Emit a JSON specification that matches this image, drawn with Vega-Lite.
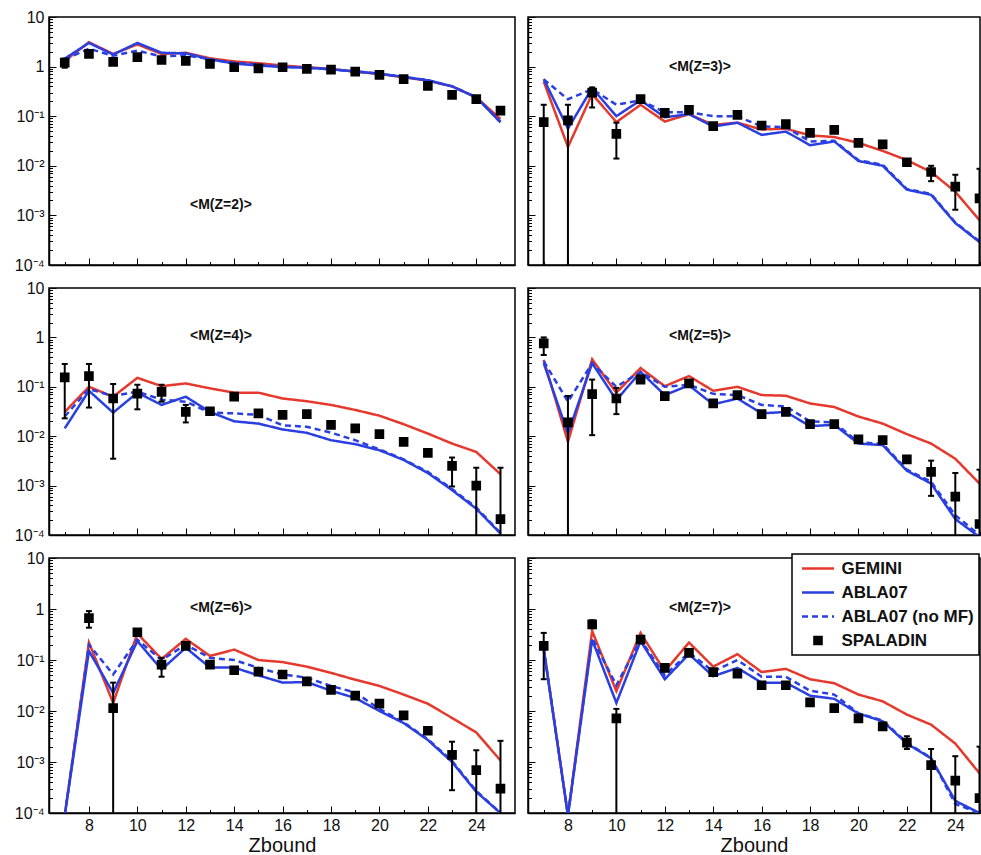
{
  "$schema": "https://vega.github.io/schema/vega-lite/v6.json",
  "padding": {"left": 13, "top": 8, "right": 0, "bottom": 0},
  "background": "white",
  "config": {
    "view": {"stroke": "black", "strokeWidth": 1.5},
    "axis": {"domainColor": "black", "domainWidth": 1.5, "tickColor": "black", "tickWidth": 1, "grid": false, "labelFont": "Liberation Sans", "labelFontSize": 16, "labelColor": "#111", "titleFont": "Liberation Sans", "titleFontSize": 20, "titleFontWeight": "normal", "titleColor": "#111", "labelFlush": false, "labelOverlap": false},
    "legend": {"orient": "none", "legendX": 743, "legendY": 537, "strokeColor": "black", "strokeWidth": 1.5, "fillColor": "white", "padding": 5, "labelFont": "Liberation Sans", "labelFontSize": 17, "labelFontWeight": "bold", "labelColor": "#111", "rowPadding": 6, "symbolSize": 256, "symbolStrokeWidth": 2.5, "symbolOpacity": 1, "symbolOffset": 11.5, "labelOffset": 14, "title": null}
  },
  "datasets": {
    "d": [
      {"p":2,"z":7,"g":1.3,"a":1.45,"n":1.4,"s":1.2,"lo":0.95,"hi":1.45},
      {"p":2,"z":8,"g":3.1,"a":3.0,"n":2.3,"s":1.8},
      {"p":2,"z":9,"g":1.8,"a":1.75,"n":1.65,"s":1.25},
      {"p":2,"z":10,"g":2.8,"a":3.0,"n":2.1,"s":1.55},
      {"p":2,"z":11,"g":1.8,"a":1.9,"n":1.6,"s":1.36},
      {"p":2,"z":12,"g":1.9,"a":1.85,"n":1.7,"s":1.3},
      {"p":2,"z":13,"g":1.47,"a":1.4,"n":1.4,"s":1.13},
      {"p":2,"z":14,"g":1.27,"a":1.15,"n":1.2,"s":0.97},
      {"p":2,"z":15,"g":1.17,"a":1.05,"n":1.1,"s":0.92},
      {"p":2,"z":16,"g":1.05,"a":0.98,"n":1.0,"s":0.97},
      {"p":2,"z":17,"g":0.97,"a":0.95,"n":0.95,"s":0.9},
      {"p":2,"z":18,"g":0.9,"a":0.88,"n":0.88,"s":0.87},
      {"p":2,"z":19,"g":0.79,"a":0.8,"n":0.8,"s":0.79},
      {"p":2,"z":20,"g":0.71,"a":0.72,"n":0.72,"s":0.68},
      {"p":2,"z":21,"g":0.61,"a":0.62,"n":0.62,"s":0.56},
      {"p":2,"z":22,"g":0.52,"a":0.53,"n":0.53,"s":0.41},
      {"p":2,"z":23,"g":0.4,"a":0.4,"n":0.4,"s":0.27},
      {"p":2,"z":24,"g":0.24,"a":0.24,"n":0.24,"s":0.22},
      {"p":2,"z":25,"g":0.088,"a":0.075,"n":0.078,"s":0.13},

      {"p":3,"z":7,"g":0.5,"a":0.56,"n":0.55,"s":0.076,"lo":0.00001,"hi":0.17},
      {"p":3,"z":8,"g":0.024,"a":0.056,"n":0.22,"s":0.082,"lo":0.00001,"hi":0.17},
      {"p":3,"z":9,"g":0.28,"a":0.37,"n":0.35,"s":0.3,"lo":0.15,"hi":0.38},
      {"p":3,"z":10,"g":0.076,"a":0.1,"n":0.17,"s":0.044,"lo":0.014,"hi":0.074},
      {"p":3,"z":11,"g":0.17,"a":0.21,"n":0.21,"s":0.22},
      {"p":3,"z":12,"g":0.078,"a":0.095,"n":0.12,"s":0.117},
      {"p":3,"z":13,"g":0.11,"a":0.11,"n":0.12,"s":0.134},
      {"p":3,"z":14,"g":0.067,"a":0.062,"n":0.1,"s":0.063},
      {"p":3,"z":15,"g":0.074,"a":0.074,"n":0.1,"s":0.106},
      {"p":3,"z":16,"g":0.054,"a":0.042,"n":0.062,"s":0.065},
      {"p":3,"z":17,"g":0.056,"a":0.049,"n":0.06,"s":0.069},
      {"p":3,"z":18,"g":0.041,"a":0.026,"n":0.031,"s":0.046},
      {"p":3,"z":19,"g":0.038,"a":0.031,"n":0.032,"s":0.053},
      {"p":3,"z":20,"g":0.029,"a":0.0125,"n":0.013,"s":0.029},
      {"p":3,"z":21,"g":0.02,"a":0.01,"n":0.0105,"s":0.027},
      {"p":3,"z":22,"g":0.013,"a":0.0033,"n":0.0034,"s":0.0118},
      {"p":3,"z":23,"g":0.0075,"a":0.0026,"n":0.0027,"s":0.0075,"lo":0.0049,"hi":0.01},
      {"p":3,"z":24,"g":0.003,"a":0.0007,"n":0.00072,"s":0.0038,"lo":0.0013,"hi":0.0066},
      {"p":3,"z":25,"g":0.0008,"a":0.00029,"n":0.0003,"s":0.0022,"lo":0.00001,"hi":0.0087},

      {"p":4,"z":7,"g":0.031,"a":0.0144,"n":0.025,"s":0.155,"lo":0.023,"hi":0.29},
      {"p":4,"z":8,"g":0.1,"a":0.083,"n":0.09,"s":0.165,"lo":0.038,"hi":0.29},
      {"p":4,"z":9,"g":0.063,"a":0.03,"n":0.065,"s":0.058,"lo":0.0035,"hi":0.114},
      {"p":4,"z":10,"g":0.152,"a":0.076,"n":0.08,"s":0.073,"lo":0.035,"hi":0.11},
      {"p":4,"z":11,"g":0.103,"a":0.043,"n":0.055,"s":0.079,"lo":0.05,"hi":0.11},
      {"p":4,"z":12,"g":0.117,"a":0.063,"n":0.05,"s":0.031,"lo":0.019,"hi":0.043},
      {"p":4,"z":13,"g":0.093,"a":0.031,"n":0.03,"s":0.032},
      {"p":4,"z":14,"g":0.076,"a":0.02,"n":0.029,"s":0.063},
      {"p":4,"z":15,"g":0.076,"a":0.018,"n":0.027,"s":0.029},
      {"p":4,"z":16,"g":0.058,"a":0.0137,"n":0.0166,"s":0.027},
      {"p":4,"z":17,"g":0.051,"a":0.0117,"n":0.0155,"s":0.028},
      {"p":4,"z":18,"g":0.043,"a":0.0083,"n":0.0118,"s":0.017},
      {"p":4,"z":19,"g":0.034,"a":0.0069,"n":0.0083,"s":0.0144},
      {"p":4,"z":20,"g":0.026,"a":0.0052,"n":0.0054,"s":0.011},
      {"p":4,"z":21,"g":0.0175,"a":0.0033,"n":0.0034,"s":0.0077},
      {"p":4,"z":22,"g":0.0113,"a":0.0018,"n":0.0019,"s":0.0046},
      {"p":4,"z":23,"g":0.0071,"a":0.00081,"n":0.00085,"s":0.0025,"lo":0.00096,"hi":0.0037},
      {"p":4,"z":24,"g":0.0048,"a":0.00034,"n":0.00036,"s":0.001,"lo":0.00001,"hi":0.0023},
      {"p":4,"z":25,"g":0.0017,"a":0.000107,"n":0.00011,"s":0.00021,"lo":0.00001,"hi":0.0023},

      {"p":5,"z":7,"g":0.35,"a":0.3,"n":0.33,"s":0.76,"lo":0.44,"hi":1.0},
      {"p":5,"z":8,"g":0.0077,"a":0.0113,"n":0.05,"s":0.019,"lo":0.00001,"hi":0.065},
      {"p":5,"z":9,"g":0.36,"a":0.3,"n":0.3,"s":0.071,"lo":0.0105,"hi":0.14},
      {"p":5,"z":10,"g":0.076,"a":0.054,"n":0.1,"s":0.058,"lo":0.028,"hi":0.095},
      {"p":5,"z":11,"g":0.24,"a":0.2,"n":0.2,"s":0.14,"lo":0.12,"hi":0.17},
      {"p":5,"z":12,"g":0.103,"a":0.068,"n":0.1,"s":0.065},
      {"p":5,"z":13,"g":0.165,"a":0.107,"n":0.11,"s":0.117},
      {"p":5,"z":14,"g":0.083,"a":0.044,"n":0.072,"s":0.046},
      {"p":5,"z":15,"g":0.1,"a":0.058,"n":0.068,"s":0.068},
      {"p":5,"z":16,"g":0.068,"a":0.029,"n":0.043,"s":0.028},
      {"p":5,"z":17,"g":0.066,"a":0.031,"n":0.04,"s":0.031},
      {"p":5,"z":18,"g":0.046,"a":0.016,"n":0.02,"s":0.0175},
      {"p":5,"z":19,"g":0.039,"a":0.017,"n":0.019,"s":0.0175},
      {"p":5,"z":20,"g":0.025,"a":0.0071,"n":0.0075,"s":0.0086},
      {"p":5,"z":21,"g":0.018,"a":0.0066,"n":0.007,"s":0.0083},
      {"p":5,"z":22,"g":0.011,"a":0.002,"n":0.0021,"s":0.0034},
      {"p":5,"z":23,"g":0.0071,"a":0.0011,"n":0.0012,"s":0.0019,"lo":0.00062,"hi":0.0032},
      {"p":5,"z":24,"g":0.0035,"a":0.00021,"n":0.00025,"s":0.0006,"lo":0.00001,"hi":0.0018},
      {"p":5,"z":25,"g":0.0011,"a":0.000091,"n":0.0001,"s":0.000167,"lo":0.00001,"hi":0.0021},

      {"p":6,"z":7,"g":0.00009,"a":0.00009,"n":0.00009,"s":null},
      {"p":6,"z":8,"g":0.22,"a":0.15,"n":0.2,"s":0.66,"lo":0.43,"hi":0.91},
      {"p":6,"z":9,"g":0.0144,"a":0.0225,"n":0.052,"s":0.0114,"lo":0.00001,"hi":0.036},
      {"p":6,"z":10,"g":0.33,"a":0.235,"n":0.25,"s":0.35},
      {"p":6,"z":11,"g":0.105,"a":0.065,"n":0.1,"s":0.081,"lo":0.047,"hi":0.11},
      {"p":6,"z":12,"g":0.26,"a":0.174,"n":0.2,"s":0.19},
      {"p":6,"z":13,"g":0.12,"a":0.071,"n":0.11,"s":0.081},
      {"p":6,"z":14,"g":0.16,"a":0.071,"n":0.1,"s":0.063},
      {"p":6,"z":15,"g":0.1,"a":0.05,"n":0.07,"s":0.059},
      {"p":6,"z":16,"g":0.091,"a":0.036,"n":0.052,"s":0.052},
      {"p":6,"z":17,"g":0.074,"a":0.037,"n":0.045,"s":0.038},
      {"p":6,"z":18,"g":0.056,"a":0.025,"n":0.031,"s":0.026},
      {"p":6,"z":19,"g":0.041,"a":0.018,"n":0.023,"s":0.02},
      {"p":6,"z":20,"g":0.031,"a":0.01,"n":0.011,"s":0.0139},
      {"p":6,"z":21,"g":0.021,"a":0.0058,"n":0.006,"s":0.0082},
      {"p":6,"z":22,"g":0.0139,"a":0.0027,"n":0.0028,"s":0.0041},
      {"p":6,"z":23,"g":0.0073,"a":0.001,"n":0.00105,"s":0.00138,"lo":0.00028,"hi":0.0025},
      {"p":6,"z":24,"g":0.0038,"a":0.00026,"n":0.00027,"s":0.00069,"lo":0.00001,"hi":0.0017},
      {"p":6,"z":25,"g":0.00107,"a":0.0001,"n":0.0001,"s":0.0003,"lo":0.00001,"hi":0.0026},

      {"p":7,"z":7,"g":0.17,"a":0.16,"n":0.17,"s":0.19,"lo":0.042,"hi":0.34},
      {"p":7,"z":8,"g":0.00009,"a":0.00009,"n":0.00009,"s":null},
      {"p":7,"z":9,"g":0.37,"a":0.25,"n":0.27,"s":0.5,"lo":0.42,"hi":0.6},
      {"p":7,"z":10,"g":0.0245,"a":0.0144,"n":0.032,"s":0.0072,"lo":0.00001,"hi":0.011},
      {"p":7,"z":11,"g":0.34,"a":0.235,"n":0.25,"s":0.25},
      {"p":7,"z":12,"g":0.06,"a":0.042,"n":0.05,"s":0.07},
      {"p":7,"z":13,"g":0.22,"a":0.13,"n":0.14,"s":0.138},
      {"p":7,"z":14,"g":0.074,"a":0.048,"n":0.06,"s":0.058},
      {"p":7,"z":15,"g":0.13,"a":0.07,"n":0.1,"s":0.054},
      {"p":7,"z":16,"g":0.058,"a":0.036,"n":0.047,"s":0.032},
      {"p":7,"z":17,"g":0.067,"a":0.036,"n":0.047,"s":0.032},
      {"p":7,"z":18,"g":0.042,"a":0.02,"n":0.025,"s":0.0148},
      {"p":7,"z":19,"g":0.035,"a":0.0173,"n":0.021,"s":0.0114},
      {"p":7,"z":20,"g":0.021,"a":0.0089,"n":0.009,"s":0.0072},
      {"p":7,"z":21,"g":0.0155,"a":0.0063,"n":0.0065,"s":0.005},
      {"p":7,"z":22,"g":0.0085,"a":0.0023,"n":0.0024,"s":0.0024,"lo":0.0018,"hi":0.0032},
      {"p":7,"z":23,"g":0.0054,"a":0.00118,"n":0.0012,"s":0.00087,"lo":0.00001,"hi":0.0018},
      {"p":7,"z":24,"g":0.0023,"a":0.000173,"n":0.00015,"s":0.00043,"lo":0.00001,"hi":0.0013},
      {"p":7,"z":25,"g":0.0006,"a":0.0001,"n":0.0001,"s":0.000195,"lo":0.00001,"hi":0.002}
    ]
  },
  "data": {"name": "d"},
  "spacing": 5,
  "vconcat": [
    {"spacing": 10, "hconcat": [
      {"width": 466, "height": 248,
       "transform": [{"filter": "datum.p == 2"}, {"fold": ["g","a","n","s"], "as": ["m","v"]}],
       "encoding": {
         "x": {"field": "z", "type": "quantitative", "scale": {"domain": [6.35, 25.6], "nice": false, "zero": false},
               "axis": {"values": [7,8,9,10,11,12,13,14,15,16,17,18,19,20,21,22,23,24,25], "labels": false, "title": null, "tickSize": {"condition": {"test": "datum.value % 2 == 0", "value": -7}, "value": -3.5}}},
         "y": {"field": "v", "type": "quantitative", "scale": {"type": "log", "domain": [0.0001, 10], "nice": false},
               "axis": {"title": null, "values": [0.0001,0.0002,0.0003,0.0004,0.0005,0.0006,0.0007,0.0008,0.0009,0.001,0.002,0.003,0.004,0.005,0.006,0.007,0.008,0.009,0.01,0.02,0.03,0.04,0.05,0.06,0.07,0.08,0.09,0.1,0.2,0.3,0.4,0.5,0.6,0.7,0.8,0.9,1,2,3,4,5,6,7,8,9,10],
                        "labelExpr": "datum.value === 10 ? '10' : datum.value === 1 ? '1' : datum.value === 0.1 ? '10⁻¹' : datum.value === 0.01 ? '10⁻²' : datum.value === 0.001 ? '10⁻³' : datum.value === 0.0001 ? '10⁻⁴' : ''",
                        "labelPadding": 12,
                        "tickSize": {"condition": {"test": "datum.value === 10 || datum.value === 1 || datum.value === 0.1 || datum.value === 0.01 || datum.value === 0.001 || datum.value === 0.0001", "value": -7}, "value": -3.5}}}
       },
       "layer": [
         {"transform": [{"filter": "datum.m != 's'"}], "mark": {"type": "line", "strokeWidth": 2.5, "clip": true},
          "encoding": {"color": {"field": "m", "type": "nominal", "scale": {"domain": ["g","a","n","s"], "range": ["#e5392d","#2a3fe0","#2a3fe0","#000000"]},
                                 "legend": {"labelExpr": "datum.value === 'g' ? 'GEMINI' : datum.value === 'a' ? 'ABLA07' : datum.value === 'n' ? 'ABLA07 (no MF)' : 'SPALADIN'"}},
                       "strokeDash": {"field": "m", "type": "nominal", "scale": {"domain": ["g","a","n","s"], "range": [[1,0],[1,0],[6,4],[1,0]]}, "legend": {"labelExpr": "datum.value === 'g' ? 'GEMINI' : datum.value === 'a' ? 'ABLA07' : datum.value === 'n' ? 'ABLA07 (no MF)' : 'SPALADIN'"}}}},
         {"transform": [{"filter": "datum.m == 's' && isValid(datum.v) && isValid(datum.lo)"}], "mark": {"type": "rule", "strokeWidth": 2, "color": "black", "clip": true},
          "encoding": {"y": {"field": "lo"}, "y2": {"field": "hi"}}},
         {"transform": [{"filter": "datum.m == 's' && isValid(datum.v) && isValid(datum.lo)"}], "mark": {"type": "tick", "orient": "horizontal", "size": 6, "thickness": 2, "color": "black", "opacity": 1, "clip": true},
          "encoding": {"y": {"field": "hi"}}},
         {"transform": [{"filter": "datum.m == 's' && isValid(datum.v) && isValid(datum.lo)"}], "mark": {"type": "tick", "orient": "horizontal", "size": 6, "thickness": 2, "color": "black", "opacity": 1, "clip": true},
          "encoding": {"y": {"field": "lo"}}},
         {"transform": [{"filter": "datum.m == 's' && isValid(datum.v)"}], "mark": {"type": "point", "size": 256, "opacity": 1, "filled": false, "strokeWidth": 2.5, "clip": true},
          "encoding": {"color": {"field": "m", "type": "nominal", "scale": {"domain": ["g","a","n","s"], "range": ["#e5392d","#2a3fe0","#2a3fe0","#000000"]}, "legend": {"labelExpr": "datum.value === 'g' ? 'GEMINI' : datum.value === 'a' ? 'ABLA07' : datum.value === 'n' ? 'ABLA07 (no MF)' : 'SPALADIN'"}},
                       "shape": {"field": "m", "type": "nominal", "scale": {"domain": ["g","a","n","s"], "range": ["M-2,0H2","M-2,0H2","M-2,0H2","M-0.6,-0.45H0.6M-0.6,-0.15H0.6M-0.6,0.15H0.6M-0.6,0.45H0.6"]}, "legend": {"labelExpr": "datum.value === 'g' ? 'GEMINI' : datum.value === 'a' ? 'ABLA07' : datum.value === 'n' ? 'ABLA07 (no MF)' : 'SPALADIN'"}}}},
         {"transform": [{"filter": "datum.m == 'g' && datum.z == 7"}], "mark": {"type": "text", "font": "Liberation Sans", "fontSize": 14, "fontWeight": "bold", "color": "#111"},
          "encoding": {"x": {"datum": 13.45}, "y": {"datum": 0.00164}, "text": {"value": "<M(Z=2)>"}}}
       ]},
      {"width": 452, "height": 248,
       "transform": [{"filter": "datum.p == 3"}, {"fold": ["g","a","n","s"], "as": ["m","v"]}],
       "encoding": {
         "x": {"field": "z", "type": "quantitative", "scale": {"domain": [6.35, 25.02], "nice": false, "zero": false},
               "axis": {"values": [7,8,9,10,11,12,13,14,15,16,17,18,19,20,21,22,23,24,25], "labels": false, "title": null, "tickSize": {"condition": {"test": "datum.value % 2 == 0", "value": -7}, "value": -3.5}}},
         "y": {"field": "v", "type": "quantitative", "scale": {"type": "log", "domain": [0.0001, 10], "nice": false},
               "axis": {"title": null, "labels": false, "values": [0.0001,0.0002,0.0003,0.0004,0.0005,0.0006,0.0007,0.0008,0.0009,0.001,0.002,0.003,0.004,0.005,0.006,0.007,0.008,0.009,0.01,0.02,0.03,0.04,0.05,0.06,0.07,0.08,0.09,0.1,0.2,0.3,0.4,0.5,0.6,0.7,0.8,0.9,1,2,3,4,5,6,7,8,9,10],
                        "tickSize": {"condition": {"test": "datum.value === 10 || datum.value === 1 || datum.value === 0.1 || datum.value === 0.01 || datum.value === 0.001 || datum.value === 0.0001", "value": -7}, "value": -3.5}}}
       },
       "layer": [
         {"transform": [{"filter": "datum.m != 's'"}], "mark": {"type": "line", "strokeWidth": 2.5, "clip": true},
          "encoding": {"color": {"field": "m", "type": "nominal", "scale": {"domain": ["g","a","n","s"], "range": ["#e5392d","#2a3fe0","#2a3fe0","#000000"]}},
                       "strokeDash": {"field": "m", "type": "nominal", "scale": {"domain": ["g","a","n","s"], "range": [[1,0],[1,0],[6,4],[1,0]]}}}},
         {"transform": [{"filter": "datum.m == 's' && isValid(datum.v) && isValid(datum.lo)"}], "mark": {"type": "rule", "strokeWidth": 2, "color": "black", "clip": true},
          "encoding": {"y": {"field": "lo"}, "y2": {"field": "hi"}}},
         {"transform": [{"filter": "datum.m == 's' && isValid(datum.v) && isValid(datum.lo)"}], "mark": {"type": "tick", "orient": "horizontal", "size": 6, "thickness": 2, "color": "black", "opacity": 1, "clip": true},
          "encoding": {"y": {"field": "hi"}}},
         {"transform": [{"filter": "datum.m == 's' && isValid(datum.v) && isValid(datum.lo)"}], "mark": {"type": "tick", "orient": "horizontal", "size": 6, "thickness": 2, "color": "black", "opacity": 1, "clip": true},
          "encoding": {"y": {"field": "lo"}}},
         {"transform": [{"filter": "datum.m == 's' && isValid(datum.v)"}], "mark": {"type": "point", "size": 256, "opacity": 1, "filled": false, "strokeWidth": 2.5, "clip": true},
          "encoding": {"color": {"field": "m", "type": "nominal", "scale": {"domain": ["g","a","n","s"], "range": ["#e5392d","#2a3fe0","#2a3fe0","#000000"]}},
                       "shape": {"field": "m", "type": "nominal", "scale": {"domain": ["g","a","n","s"], "range": ["M-2,0H2","M-2,0H2","M-2,0H2","M-0.6,-0.45H0.6M-0.6,-0.15H0.6M-0.6,0.15H0.6M-0.6,0.45H0.6"]}}}},
         {"transform": [{"filter": "datum.m == 'g' && datum.z == 7"}], "mark": {"type": "text", "font": "Liberation Sans", "fontSize": 14, "fontWeight": "bold", "color": "#111"},
          "encoding": {"x": {"datum": 13.45}, "y": {"datum": 0.97}, "text": {"value": "<M(Z=3)>"}}}
       ]}
    ]},
    {"spacing": 10, "hconcat": [
      {"width": 466, "height": 247,
       "transform": [{"filter": "datum.p == 4"}, {"fold": ["g","a","n","s"], "as": ["m","v"]}],
       "encoding": {
         "x": {"field": "z", "type": "quantitative", "scale": {"domain": [6.35, 25.6], "nice": false, "zero": false},
               "axis": {"values": [7,8,9,10,11,12,13,14,15,16,17,18,19,20,21,22,23,24,25], "labels": false, "title": null, "tickSize": {"condition": {"test": "datum.value % 2 == 0", "value": -7}, "value": -3.5}}},
         "y": {"field": "v", "type": "quantitative", "scale": {"type": "log", "domain": [0.0001, 10], "nice": false},
               "axis": {"title": null, "values": [0.0001,0.0002,0.0003,0.0004,0.0005,0.0006,0.0007,0.0008,0.0009,0.001,0.002,0.003,0.004,0.005,0.006,0.007,0.008,0.009,0.01,0.02,0.03,0.04,0.05,0.06,0.07,0.08,0.09,0.1,0.2,0.3,0.4,0.5,0.6,0.7,0.8,0.9,1,2,3,4,5,6,7,8,9,10],
                        "labelExpr": "datum.value === 10 ? '10' : datum.value === 1 ? '1' : datum.value === 0.1 ? '10⁻¹' : datum.value === 0.01 ? '10⁻²' : datum.value === 0.001 ? '10⁻³' : datum.value === 0.0001 ? '10⁻⁴' : ''",
                        "labelPadding": 12,
                        "tickSize": {"condition": {"test": "datum.value === 10 || datum.value === 1 || datum.value === 0.1 || datum.value === 0.01 || datum.value === 0.001 || datum.value === 0.0001", "value": -7}, "value": -3.5}}}
       },
       "layer": [
         {"transform": [{"filter": "datum.m != 's'"}], "mark": {"type": "line", "strokeWidth": 2.5, "clip": true},
          "encoding": {"color": {"field": "m", "type": "nominal", "scale": {"domain": ["g","a","n","s"], "range": ["#e5392d","#2a3fe0","#2a3fe0","#000000"]}},
                       "strokeDash": {"field": "m", "type": "nominal", "scale": {"domain": ["g","a","n","s"], "range": [[1,0],[1,0],[6,4],[1,0]]}}}},
         {"transform": [{"filter": "datum.m == 's' && isValid(datum.v) && isValid(datum.lo)"}], "mark": {"type": "rule", "strokeWidth": 2, "color": "black", "clip": true},
          "encoding": {"y": {"field": "lo"}, "y2": {"field": "hi"}}},
         {"transform": [{"filter": "datum.m == 's' && isValid(datum.v) && isValid(datum.lo)"}], "mark": {"type": "tick", "orient": "horizontal", "size": 6, "thickness": 2, "color": "black", "opacity": 1, "clip": true},
          "encoding": {"y": {"field": "hi"}}},
         {"transform": [{"filter": "datum.m == 's' && isValid(datum.v) && isValid(datum.lo)"}], "mark": {"type": "tick", "orient": "horizontal", "size": 6, "thickness": 2, "color": "black", "opacity": 1, "clip": true},
          "encoding": {"y": {"field": "lo"}}},
         {"transform": [{"filter": "datum.m == 's' && isValid(datum.v)"}], "mark": {"type": "point", "size": 256, "opacity": 1, "filled": false, "strokeWidth": 2.5, "clip": true},
          "encoding": {"color": {"field": "m", "type": "nominal", "scale": {"domain": ["g","a","n","s"], "range": ["#e5392d","#2a3fe0","#2a3fe0","#000000"]}},
                       "shape": {"field": "m", "type": "nominal", "scale": {"domain": ["g","a","n","s"], "range": ["M-2,0H2","M-2,0H2","M-2,0H2","M-0.6,-0.45H0.6M-0.6,-0.15H0.6M-0.6,0.15H0.6M-0.6,0.45H0.6"]}}}},
         {"transform": [{"filter": "datum.m == 'g' && datum.z == 7"}], "mark": {"type": "text", "font": "Liberation Sans", "fontSize": 14, "fontWeight": "bold", "color": "#111"},
          "encoding": {"x": {"datum": 13.45}, "y": {"datum": 1.05}, "text": {"value": "<M(Z=4)>"}}}
       ]},
      {"width": 452, "height": 247,
       "transform": [{"filter": "datum.p == 5"}, {"fold": ["g","a","n","s"], "as": ["m","v"]}],
       "encoding": {
         "x": {"field": "z", "type": "quantitative", "scale": {"domain": [6.35, 25.02], "nice": false, "zero": false},
               "axis": {"values": [7,8,9,10,11,12,13,14,15,16,17,18,19,20,21,22,23,24,25], "labels": false, "title": null, "tickSize": {"condition": {"test": "datum.value % 2 == 0", "value": -7}, "value": -3.5}}},
         "y": {"field": "v", "type": "quantitative", "scale": {"type": "log", "domain": [0.0001, 10], "nice": false},
               "axis": {"title": null, "labels": false, "values": [0.0001,0.0002,0.0003,0.0004,0.0005,0.0006,0.0007,0.0008,0.0009,0.001,0.002,0.003,0.004,0.005,0.006,0.007,0.008,0.009,0.01,0.02,0.03,0.04,0.05,0.06,0.07,0.08,0.09,0.1,0.2,0.3,0.4,0.5,0.6,0.7,0.8,0.9,1,2,3,4,5,6,7,8,9,10],
                        "tickSize": {"condition": {"test": "datum.value === 10 || datum.value === 1 || datum.value === 0.1 || datum.value === 0.01 || datum.value === 0.001 || datum.value === 0.0001", "value": -7}, "value": -3.5}}}
       },
       "layer": [
         {"transform": [{"filter": "datum.m != 's'"}], "mark": {"type": "line", "strokeWidth": 2.5, "clip": true},
          "encoding": {"color": {"field": "m", "type": "nominal", "scale": {"domain": ["g","a","n","s"], "range": ["#e5392d","#2a3fe0","#2a3fe0","#000000"]}},
                       "strokeDash": {"field": "m", "type": "nominal", "scale": {"domain": ["g","a","n","s"], "range": [[1,0],[1,0],[6,4],[1,0]]}}}},
         {"transform": [{"filter": "datum.m == 's' && isValid(datum.v) && isValid(datum.lo)"}], "mark": {"type": "rule", "strokeWidth": 2, "color": "black", "clip": true},
          "encoding": {"y": {"field": "lo"}, "y2": {"field": "hi"}}},
         {"transform": [{"filter": "datum.m == 's' && isValid(datum.v) && isValid(datum.lo)"}], "mark": {"type": "tick", "orient": "horizontal", "size": 6, "thickness": 2, "color": "black", "opacity": 1, "clip": true},
          "encoding": {"y": {"field": "hi"}}},
         {"transform": [{"filter": "datum.m == 's' && isValid(datum.v) && isValid(datum.lo)"}], "mark": {"type": "tick", "orient": "horizontal", "size": 6, "thickness": 2, "color": "black", "opacity": 1, "clip": true},
          "encoding": {"y": {"field": "lo"}}},
         {"transform": [{"filter": "datum.m == 's' && isValid(datum.v)"}], "mark": {"type": "point", "size": 256, "opacity": 1, "filled": false, "strokeWidth": 2.5, "clip": true},
          "encoding": {"color": {"field": "m", "type": "nominal", "scale": {"domain": ["g","a","n","s"], "range": ["#e5392d","#2a3fe0","#2a3fe0","#000000"]}},
                       "shape": {"field": "m", "type": "nominal", "scale": {"domain": ["g","a","n","s"], "range": ["M-2,0H2","M-2,0H2","M-2,0H2","M-0.6,-0.45H0.6M-0.6,-0.15H0.6M-0.6,0.15H0.6M-0.6,0.45H0.6"]}}}},
         {"transform": [{"filter": "datum.m == 'g' && datum.z == 7"}], "mark": {"type": "text", "font": "Liberation Sans", "fontSize": 14, "fontWeight": "bold", "color": "#111"},
          "encoding": {"x": {"datum": 13.45}, "y": {"datum": 1.05}, "text": {"value": "<M(Z=5)>"}}}
       ]}
    ]},
    {"spacing": 10, "hconcat": [
      {"width": 466, "height": 255,
       "transform": [{"filter": "datum.p == 6"}, {"fold": ["g","a","n","s"], "as": ["m","v"]}],
       "encoding": {
         "x": {"field": "z", "type": "quantitative", "scale": {"domain": [6.35, 25.6], "nice": false, "zero": false},
               "axis": {"values": [7,8,9,10,11,12,13,14,15,16,17,18,19,20,21,22,23,24,25], "title": "Zbound", "titlePadding": -1, "labelPadding": 11,
                        "labelExpr": "datum.value % 2 == 0 ? datum.label : ''",
                        "tickSize": {"condition": {"test": "datum.value % 2 == 0", "value": -7}, "value": -3.5}}},
         "y": {"field": "v", "type": "quantitative", "scale": {"type": "log", "domain": [0.0001, 10], "nice": false},
               "axis": {"title": null, "values": [0.0001,0.0002,0.0003,0.0004,0.0005,0.0006,0.0007,0.0008,0.0009,0.001,0.002,0.003,0.004,0.005,0.006,0.007,0.008,0.009,0.01,0.02,0.03,0.04,0.05,0.06,0.07,0.08,0.09,0.1,0.2,0.3,0.4,0.5,0.6,0.7,0.8,0.9,1,2,3,4,5,6,7,8,9,10],
                        "labelExpr": "datum.value === 10 ? '10' : datum.value === 1 ? '1' : datum.value === 0.1 ? '10⁻¹' : datum.value === 0.01 ? '10⁻²' : datum.value === 0.001 ? '10⁻³' : datum.value === 0.0001 ? '10⁻⁴' : ''",
                        "labelPadding": 12,
                        "tickSize": {"condition": {"test": "datum.value === 10 || datum.value === 1 || datum.value === 0.1 || datum.value === 0.01 || datum.value === 0.001 || datum.value === 0.0001", "value": -7}, "value": -3.5}}}
       },
       "layer": [
         {"transform": [{"filter": "datum.m != 's'"}], "mark": {"type": "line", "strokeWidth": 2.5, "clip": true},
          "encoding": {"color": {"field": "m", "type": "nominal", "scale": {"domain": ["g","a","n","s"], "range": ["#e5392d","#2a3fe0","#2a3fe0","#000000"]}},
                       "strokeDash": {"field": "m", "type": "nominal", "scale": {"domain": ["g","a","n","s"], "range": [[1,0],[1,0],[6,4],[1,0]]}}}},
         {"transform": [{"filter": "datum.m == 's' && isValid(datum.v) && isValid(datum.lo)"}], "mark": {"type": "rule", "strokeWidth": 2, "color": "black", "clip": true},
          "encoding": {"y": {"field": "lo"}, "y2": {"field": "hi"}}},
         {"transform": [{"filter": "datum.m == 's' && isValid(datum.v) && isValid(datum.lo)"}], "mark": {"type": "tick", "orient": "horizontal", "size": 6, "thickness": 2, "color": "black", "opacity": 1, "clip": true},
          "encoding": {"y": {"field": "hi"}}},
         {"transform": [{"filter": "datum.m == 's' && isValid(datum.v) && isValid(datum.lo)"}], "mark": {"type": "tick", "orient": "horizontal", "size": 6, "thickness": 2, "color": "black", "opacity": 1, "clip": true},
          "encoding": {"y": {"field": "lo"}}},
         {"transform": [{"filter": "datum.m == 's' && isValid(datum.v)"}], "mark": {"type": "point", "size": 256, "opacity": 1, "filled": false, "strokeWidth": 2.5, "clip": true},
          "encoding": {"color": {"field": "m", "type": "nominal", "scale": {"domain": ["g","a","n","s"], "range": ["#e5392d","#2a3fe0","#2a3fe0","#000000"]}},
                       "shape": {"field": "m", "type": "nominal", "scale": {"domain": ["g","a","n","s"], "range": ["M-2,0H2","M-2,0H2","M-2,0H2","M-0.6,-0.45H0.6M-0.6,-0.15H0.6M-0.6,0.15H0.6M-0.6,0.45H0.6"]}}}},
         {"transform": [{"filter": "datum.m == 'g' && datum.z == 7"}], "mark": {"type": "text", "font": "Liberation Sans", "fontSize": 14, "fontWeight": "bold", "color": "#111"},
          "encoding": {"x": {"datum": 13.45}, "y": {"datum": 1.03}, "text": {"value": "<M(Z=6)>"}}}
       ]},
      {"width": 452, "height": 255,
       "transform": [{"filter": "datum.p == 7"}, {"fold": ["g","a","n","s"], "as": ["m","v"]}],
       "encoding": {
         "x": {"field": "z", "type": "quantitative", "scale": {"domain": [6.35, 25.02], "nice": false, "zero": false},
               "axis": {"values": [7,8,9,10,11,12,13,14,15,16,17,18,19,20,21,22,23,24,25], "title": "Zbound", "titlePadding": -1, "labelPadding": 11,
                        "labelExpr": "datum.value % 2 == 0 ? datum.label : ''",
                        "tickSize": {"condition": {"test": "datum.value % 2 == 0", "value": -7}, "value": -3.5}}},
         "y": {"field": "v", "type": "quantitative", "scale": {"type": "log", "domain": [0.0001, 10], "nice": false},
               "axis": {"title": null, "labels": false, "values": [0.0001,0.0002,0.0003,0.0004,0.0005,0.0006,0.0007,0.0008,0.0009,0.001,0.002,0.003,0.004,0.005,0.006,0.007,0.008,0.009,0.01,0.02,0.03,0.04,0.05,0.06,0.07,0.08,0.09,0.1,0.2,0.3,0.4,0.5,0.6,0.7,0.8,0.9,1,2,3,4,5,6,7,8,9,10],
                        "tickSize": {"condition": {"test": "datum.value === 10 || datum.value === 1 || datum.value === 0.1 || datum.value === 0.01 || datum.value === 0.001 || datum.value === 0.0001", "value": -7}, "value": -3.5}}}
       },
       "layer": [
         {"transform": [{"filter": "datum.m != 's'"}], "mark": {"type": "line", "strokeWidth": 2.5, "clip": true},
          "encoding": {"color": {"field": "m", "type": "nominal", "scale": {"domain": ["g","a","n","s"], "range": ["#e5392d","#2a3fe0","#2a3fe0","#000000"]}},
                       "strokeDash": {"field": "m", "type": "nominal", "scale": {"domain": ["g","a","n","s"], "range": [[1,0],[1,0],[6,4],[1,0]]}}}},
         {"transform": [{"filter": "datum.m == 's' && isValid(datum.v) && isValid(datum.lo)"}], "mark": {"type": "rule", "strokeWidth": 2, "color": "black", "clip": true},
          "encoding": {"y": {"field": "lo"}, "y2": {"field": "hi"}}},
         {"transform": [{"filter": "datum.m == 's' && isValid(datum.v) && isValid(datum.lo)"}], "mark": {"type": "tick", "orient": "horizontal", "size": 6, "thickness": 2, "color": "black", "opacity": 1, "clip": true},
          "encoding": {"y": {"field": "hi"}}},
         {"transform": [{"filter": "datum.m == 's' && isValid(datum.v) && isValid(datum.lo)"}], "mark": {"type": "tick", "orient": "horizontal", "size": 6, "thickness": 2, "color": "black", "opacity": 1, "clip": true},
          "encoding": {"y": {"field": "lo"}}},
         {"transform": [{"filter": "datum.m == 's' && isValid(datum.v)"}], "mark": {"type": "point", "size": 256, "opacity": 1, "filled": false, "strokeWidth": 2.5, "clip": true},
          "encoding": {"color": {"field": "m", "type": "nominal", "scale": {"domain": ["g","a","n","s"], "range": ["#e5392d","#2a3fe0","#2a3fe0","#000000"]}},
                       "shape": {"field": "m", "type": "nominal", "scale": {"domain": ["g","a","n","s"], "range": ["M-2,0H2","M-2,0H2","M-2,0H2","M-0.6,-0.45H0.6M-0.6,-0.15H0.6M-0.6,0.15H0.6M-0.6,0.45H0.6"]}}}},
         {"transform": [{"filter": "datum.m == 'g' && datum.z == 7"}], "mark": {"type": "text", "font": "Liberation Sans", "fontSize": 14, "fontWeight": "bold", "color": "#111"},
          "encoding": {"x": {"datum": 13.45}, "y": {"datum": 1.03}, "text": {"value": "<M(Z=7)>"}}}
       ]}
    ]}
  ]
}
